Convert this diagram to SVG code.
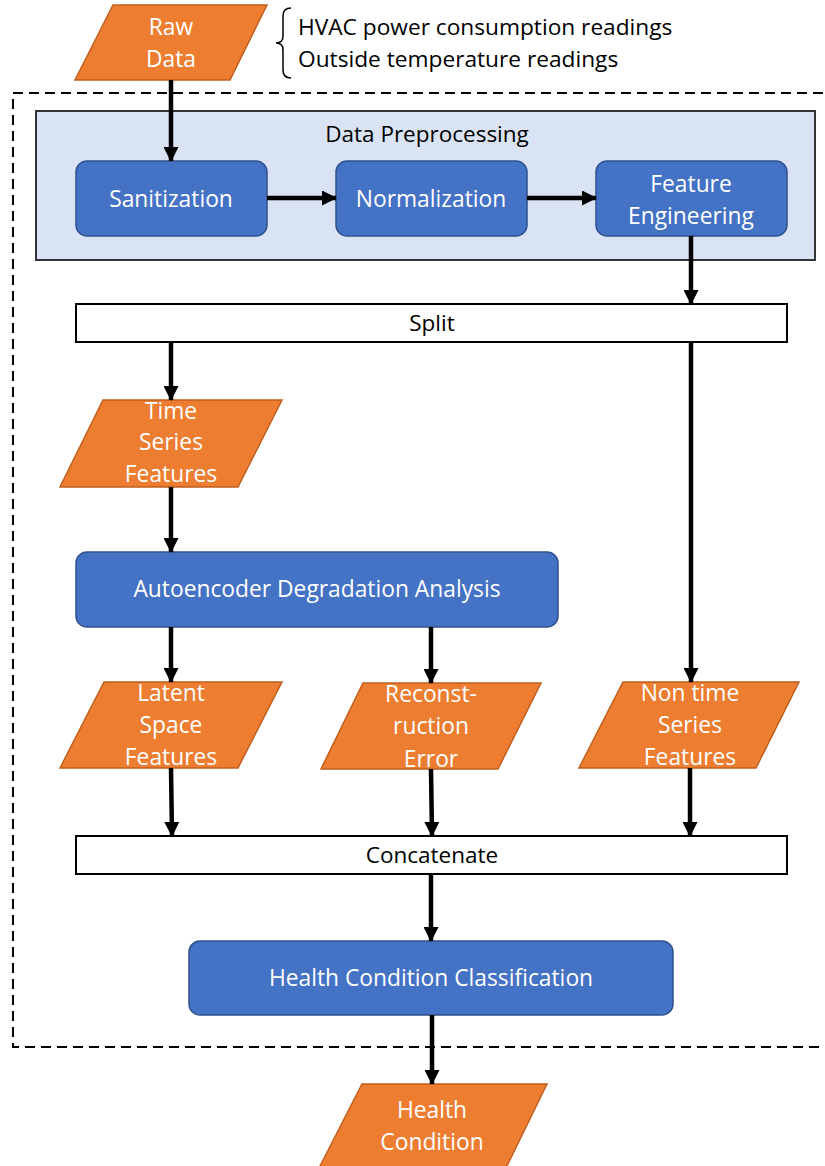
<svg xmlns="http://www.w3.org/2000/svg" width="825" height="1166" viewBox="0 0 825 1166">
<defs>
<marker id="ah" markerUnits="userSpaceOnUse" markerWidth="15" markerHeight="15" refX="14" refY="7.5" orient="auto">
<path d="M0,0 L15,7.5 L0,15 Z" fill="#000"/>
</marker>
<style>
.io{fill:#ED7D31;stroke:#C05F1E;stroke-width:1.5}
.pr{fill:#4472C4;stroke:#2F528F;stroke-width:1.5}
.bar{fill:#fff;stroke:#000;stroke-width:2}
.wt{font-family:"Open Sans",sans-serif;font-size:22.8px;fill:#fff;text-anchor:middle}
.bt{font-family:"Open Sans",sans-serif;font-size:22.5px;fill:#000;text-anchor:middle}
.lt{font-family:"Open Sans",sans-serif;font-size:22.7px;fill:#000}
.c{stroke:#000;stroke-width:4.5;fill:none;marker-end:url(#ah)}
</style>
</defs>
<rect width="825" height="1166" fill="#fff"/>
<rect x="13" y="93" width="830" height="954" fill="none" stroke="#000" stroke-width="2" stroke-dasharray="10,6"/>
<g id="preprocessing">
<rect x="36" y="111" width="779" height="149" fill="#DAE3F3" stroke="#333" stroke-width="2"/>
<text class="bt" x="427" y="142">Data Preprocessing</text>
</g>
<g id="raw-data">
<polygon class="io" points="113,5 267,5 230,80 75,80"/>
<text class="wt" x="171" y="35">Raw</text>
<text class="wt" x="171" y="67">Data</text>
</g>
<g id="raw-note">
<path d="M291,8 Q283,8 283,16 L283,36 Q283,43 276,43 Q283,43 283,50 L283,70 Q283,78 291,78" fill="none" stroke="#000" stroke-width="1.5"/>
<text class="lt" x="298" y="35">HVAC power consumption readings</text>
<text class="lt" x="298" y="67">Outside temperature readings</text>
</g>
<g id="sanitization">
<rect class="pr" x="76" y="161" width="191" height="75" rx="11"/>
<text class="wt" x="171" y="207">Sanitization</text>
</g>
<g id="normalization">
<rect class="pr" x="336" y="161" width="191" height="75" rx="11"/>
<text class="wt" x="431" y="207">Normalization</text>
</g>
<g id="feature-engineering">
<rect class="pr" x="596" y="161" width="191" height="75" rx="11"/>
<text class="wt" x="691" y="192">Feature</text>
<text class="wt" x="691" y="224">Engineering</text>
</g>
<g id="split">
<rect class="bar" x="76" y="304" width="711" height="38"/>
<text class="bt" x="432" y="331">Split</text>
</g>
<g id="time-series">
<polygon class="io" points="103,400 282,400 238,487 60,487"/>
<text class="wt" x="171" y="419">Time</text>
<text class="wt" x="171" y="450">Series</text>
<text class="wt" x="171" y="482">Features</text>
</g>
<g id="autoencoder">
<rect class="pr" x="76" y="552" width="482" height="75" rx="11"/>
<text class="wt" x="317" y="597">Autoencoder Degradation Analysis</text>
</g>
<g id="latent">
<polygon class="io" points="104,682 282,682 238,768 60,768"/>
<text class="wt" x="171" y="701">Latent</text>
<text class="wt" x="171" y="733">Space</text>
<text class="wt" x="171" y="765">Features</text>
</g>
<g id="reconstruction">
<polygon class="io" points="363,683 541,683 498,769 321,769"/>
<text class="wt" x="431" y="702">Reconst-</text>
<text class="wt" x="431" y="734">ruction</text>
<text class="wt" x="431" y="767">Error</text>
</g>
<g id="non-time-series">
<polygon class="io" points="623,682 799,682 756,768 579,768"/>
<text class="wt" x="690" y="701">Non time</text>
<text class="wt" x="690" y="733">Series</text>
<text class="wt" x="690" y="765">Features</text>
</g>
<g id="concatenate">
<rect class="bar" x="76" y="836" width="711" height="38"/>
<text class="bt" x="432" y="863">Concatenate</text>
</g>
<g id="classification">
<rect class="pr" x="189" y="941" width="484" height="74" rx="11"/>
<text class="wt" x="431" y="986">Health Condition Classification</text>
</g>
<g id="health-condition">
<polygon class="io" points="362,1084 547,1084 505,1170 318,1170"/>
<text class="wt" x="432" y="1118">Health</text>
<text class="wt" x="432" y="1150">Condition</text>
</g>
<g id="connectors">
<line class="c" x1="171" y1="80" x2="171" y2="161"/>
<line class="c" x1="267" y1="198" x2="336" y2="198"/>
<line class="c" x1="527" y1="198" x2="596" y2="198"/>
<line class="c" x1="691" y1="236" x2="691" y2="304"/>
<line class="c" x1="171" y1="342" x2="171" y2="400"/>
<line class="c" x1="691" y1="342" x2="691" y2="682"/>
<line class="c" x1="171" y1="487" x2="171" y2="552"/>
<line class="c" x1="171" y1="627" x2="171" y2="682"/>
<line class="c" x1="431" y1="627" x2="431" y2="683"/>
<line class="c" x1="171" y1="768" x2="172" y2="836"/>
<line class="c" x1="431" y1="769" x2="432" y2="836"/>
<line class="c" x1="690" y1="768" x2="690" y2="836"/>
<line class="c" x1="431" y1="874" x2="431" y2="941"/>
<line class="c" x1="432" y1="1015" x2="432" y2="1084"/>
</g>
</svg>
